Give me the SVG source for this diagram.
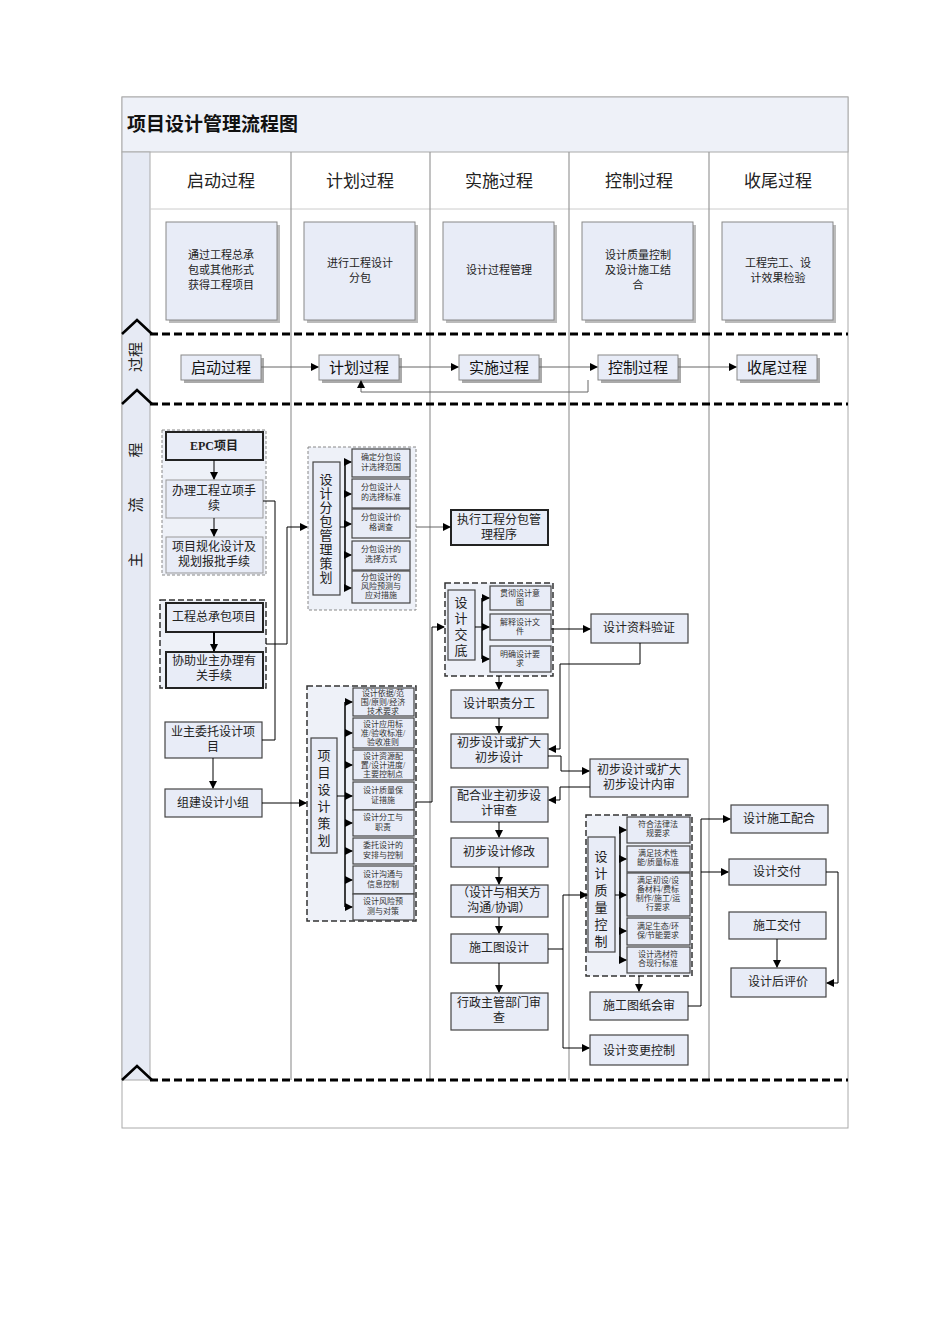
<svg xmlns="http://www.w3.org/2000/svg" width="950" height="1344" viewBox="0 0 950 1344">
<defs>
<marker id="ah" markerWidth="8" markerHeight="8" refX="7" refY="4" orient="auto" markerUnits="userSpaceOnUse"><path d="M0,0 L8,4 L0,8 z" fill="#000"/></marker>
<style>
.b{fill:#e8ecf7;stroke:#444;stroke-width:1.2}
.bt{fill:#e8ecf7;stroke:#222;stroke-width:2}
.bl{fill:#e8ecf7;stroke:#999;stroke-width:1}
.ph{fill:#e8ecf7;stroke:#888;stroke-width:1}
.g{fill:#eef1f8;stroke:#888;stroke-width:1;stroke-dasharray:3,2}
.gd{fill:#eef1f8;stroke:#333;stroke-width:1.5;stroke-dasharray:6,3}
.t{font-family:"Liberation Serif","Noto Sans CJK SC",serif;font-size:12px;fill:#222;text-anchor:middle}
.s{font-family:"Liberation Serif","Noto Sans CJK SC",serif;font-size:8px;fill:#333;text-anchor:middle}
.h{font-family:"Noto Sans CJK SC",sans-serif;font-size:17px;fill:#222;text-anchor:middle}
.p{font-family:"Noto Sans CJK SC",sans-serif;font-size:15px;fill:#111;text-anchor:middle}
.c{fill:none;stroke:#000;stroke-width:1}
.cg{fill:none;stroke:#666;stroke-width:1}
.dl{stroke:#000;stroke-width:3;stroke-dasharray:8,4}
</style>
</defs>
<rect x="0" y="0" width="950" height="1344" fill="#fff"/>
<g id="frame">
<rect x="122" y="97" width="726" height="1031" fill="#fff" stroke="#aaa"/>
<rect x="122" y="97" width="726" height="55" fill="#eef1f8" stroke="#aaa"/>
<text x="127" y="131" style="font-family:'Noto Sans CJK SC',sans-serif;font-size:19px;font-weight:bold;fill:#111">项目设计管理流程图</text>
<rect x="122" y="152" width="28" height="928" fill="#e6eaf4" stroke="#aaa"/>
<line x1="150" y1="209" x2="848" y2="209" stroke="#ccc"/>
<g stroke="#999" stroke-width="1.2"><line x1="291" y1="152" x2="291" y2="1080"/><line x1="430" y1="152" x2="430" y2="1080"/><line x1="569" y1="152" x2="569" y2="1080"/><line x1="709" y1="152" x2="709" y2="1080"/></g>
<line x1="150" y1="334" x2="848" y2="334" class="dl"/>
<line x1="150" y1="404" x2="848" y2="404" class="dl"/>
<line x1="150" y1="1080" x2="848" y2="1080" class="dl"/>
<g fill="none" stroke="#000" stroke-width="2.5"><path d="M122,334 L137,320 L152,334"/><path d="M122,404 L137,390 L152,404"/><path d="M122,1080 L137,1066 L152,1080"/></g>
<text transform="translate(141,357) rotate(-90)" class="h" style="font-size:15px">过程</text>
<text transform="translate(141,485) rotate(-90)" class="h" style="font-size:15px;letter-spacing:40px">主流程</text>
<text x="221" y="187" class="h">启动过程</text><text x="360" y="187" class="h">计划过程</text><text x="499" y="187" class="h">实施过程</text><text x="639" y="187" class="h">控制过程</text><text x="778" y="187" class="h">收尾过程</text>
</g>
<g id="phases">
<rect x="169" y="225" width="111" height="98" fill="#bbb"/><rect x="166" y="222" width="111" height="98" class="ph"/><text class="t" style="font-size:11px" x="221" y="259">通过工程总承<tspan x="221" dy="15">包或其他形式</tspan><tspan x="221" dy="15">获得工程项目</tspan></text>
<rect x="307" y="225" width="111" height="98" fill="#bbb"/><rect x="304" y="222" width="111" height="98" class="ph"/><text class="t" style="font-size:11px" x="360" y="267">进行工程设计<tspan x="360" dy="15">分包</tspan></text>
<rect x="446" y="225" width="111" height="98" fill="#bbb"/><rect x="443" y="222" width="111" height="98" class="ph"/><text class="t" style="font-size:11px" x="499" y="274">设计过程管理</text>
<rect x="585" y="225" width="111" height="98" fill="#bbb"/><rect x="582" y="222" width="111" height="98" class="ph"/><text class="t" style="font-size:11px" x="638" y="259">设计质量控制<tspan x="638" dy="15">及设计施工结</tspan><tspan x="638" dy="15">合</tspan></text>
<rect x="725" y="225" width="111" height="98" fill="#bbb"/><rect x="722" y="222" width="111" height="98" class="ph"/><text class="t" style="font-size:11px" x="778" y="267">工程完工、设<tspan x="778" dy="15">计效果检验</tspan></text>
</g>
<g id="process">
<g><rect x="184" y="358" width="80" height="25" fill="#aaa"/><rect x="181" y="355" width="80" height="25" class="ph"/><text x="221" y="373" class="p">启动过程</text></g>
<g><rect x="322" y="358" width="80" height="25" fill="#aaa"/><rect x="319" y="355" width="80" height="25" class="ph"/><text x="359" y="373" class="p">计划过程</text></g>
<g><rect x="462" y="358" width="80" height="25" fill="#aaa"/><rect x="459" y="355" width="80" height="25" class="ph"/><text x="499" y="373" class="p">实施过程</text></g>
<g><rect x="601" y="358" width="80" height="25" fill="#aaa"/><rect x="598" y="355" width="80" height="25" class="ph"/><text x="638" y="373" class="p">控制过程</text></g>
<g><rect x="740" y="358" width="80" height="25" fill="#aaa"/><rect x="737" y="355" width="80" height="25" class="ph"/><text x="777" y="373" class="p">收尾过程</text></g>
</g>
<g id="groups">
<rect x="162" y="430" width="104" height="145" class="g"/>
<rect x="160" y="600" width="106" height="88" class="gd"/>
<rect x="308" y="447" width="108" height="163" class="g"/>
<rect x="307" y="686" width="109" height="235" class="gd"/>
<rect x="445" y="583" width="108" height="93" class="gd"/>
<rect x="586" y="815" width="106" height="161" class="gd"/>
</g>
<g id="nodes">
<g id="n1"><rect x="166" y="432" width="97" height="28" class="bt"/><text x="214" y="450" class="t" style="font-weight:bold">EPC项目</text></g>
<g id="n2"><rect x="166" y="480" width="97" height="38" class="bl"/><text x="214" y="495" class="t">办理工程立项手<tspan x="214" dy="15">续</tspan></text></g>
<g id="n3"><rect x="166" y="537" width="97" height="36" class="bl"/><text x="214" y="551" class="t">项目规化设计及<tspan x="214" dy="15">规划报批手续</tspan></text></g>
<g id="n4"><rect x="166" y="603" width="97" height="29" class="bt"/><text x="214" y="621" class="t">工程总承包项目</text></g>
<g id="n5"><rect x="166" y="652" width="97" height="36" class="bt"/><text x="214" y="665" class="t">协助业主办理有<tspan x="214" dy="15">关手续</tspan></text></g>
<g id="n6"><rect x="165" y="722" width="97" height="36" class="b"/><text x="213" y="736" class="t">业主委托设计项<tspan x="213" dy="15">目</tspan></text></g>
<g id="n7"><rect x="165" y="789" width="97" height="28" class="b"/><text x="213" y="807" class="t">组建设计小组</text></g>
<g id="p1"><rect x="313" y="462" width="27" height="133" class="b"/><text class="t" style="font-size:13px" x="326" y="484">设<tspan x="326" dy="14">计</tspan><tspan x="326" dy="14">分</tspan><tspan x="326" dy="14">包</tspan><tspan x="326" dy="14">管</tspan><tspan x="326" dy="14">理</tspan><tspan x="326" dy="14">策</tspan><tspan x="326" dy="14">划</tspan></text></g>
<g id="p1a"><rect x="352" y="449" width="58" height="28" class="b"/><text class="s" x="381" y="460">确定分包设<tspan x="381" dy="10">计选择范围</tspan></text></g>
<g id="p1b"><rect x="352" y="479" width="58" height="29" class="b"/><text class="s" x="381" y="490">分包设计人<tspan x="381" dy="10">的选择标准</tspan></text></g>
<g id="p1c"><rect x="352" y="509" width="58" height="29" class="b"/><text class="s" x="381" y="520">分包设计价<tspan x="381" dy="10">格调查</tspan></text></g>
<g id="p1d"><rect x="352" y="541" width="58" height="29" class="b"/><text class="s" x="381" y="552">分包设计的<tspan x="381" dy="10">选择方式</tspan></text></g>
<g id="p1e"><rect x="352" y="571" width="58" height="32" class="b"/><text class="s" x="381" y="580">分包设计的<tspan x="381" dy="9">风险预测与</tspan><tspan x="381" dy="9">应对措施</tspan></text></g>
<g id="p2"><rect x="311" y="738" width="26" height="115" class="b"/><text class="t" style="font-size:13px" x="324" y="760">项<tspan x="324" dy="17">目</tspan><tspan x="324" dy="17">设</tspan><tspan x="324" dy="17">计</tspan><tspan x="324" dy="17">策</tspan><tspan x="324" dy="17">划</tspan></text></g>
<g id="p2a"><rect x="353" y="688" width="61" height="28" class="b"/><text class="s" x="383" y="696">设计依据/范<tspan x="383" dy="9">围/原则/经济</tspan><tspan x="383" dy="9">技术要求</tspan></text></g>
<g id="p2b"><rect x="353" y="718" width="61" height="30" class="b"/><text class="s" x="383" y="727">设计应用标<tspan x="383" dy="9">准/验收标准/</tspan><tspan x="383" dy="9">验收准则</tspan></text></g>
<g id="p2c"><rect x="353" y="750" width="61" height="30" class="b"/><text class="s" x="383" y="759">设计资源配<tspan x="383" dy="9">置/设计进度/</tspan><tspan x="383" dy="9">主要控制点</tspan></text></g>
<g id="p2d"><rect x="353" y="782" width="61" height="28" class="b"/><text class="s" x="383" y="793">设计质量保<tspan x="383" dy="10">证措施</tspan></text></g>
<g id="p2e"><rect x="353" y="810" width="61" height="26" class="b"/><text class="s" x="383" y="820">设计分工与<tspan x="383" dy="10">职责</tspan></text></g>
<g id="p2f"><rect x="353" y="838" width="61" height="26" class="b"/><text class="s" x="383" y="848">委托设计的<tspan x="383" dy="10">安排与控制</tspan></text></g>
<g id="p2g"><rect x="353" y="866" width="61" height="28" class="b"/><text class="s" x="383" y="877">设计沟通与<tspan x="383" dy="10">信息控制</tspan></text></g>
<g id="p2h"><rect x="353" y="894" width="61" height="26" class="b"/><text class="s" x="383" y="904">设计风险预<tspan x="383" dy="10">测与对策</tspan></text></g>
<g id="e0"><rect x="451" y="510" width="97" height="35" class="bt"/><text x="499" y="524" class="t">执行工程分包管<tspan x="499" dy="15">理程序</tspan></text></g>
<g id="e1"><rect x="448" y="590" width="27" height="70" class="b"/><text class="t" style="font-size:13px" x="461" y="607">设<tspan x="461" dy="16">计</tspan><tspan x="461" dy="16">交</tspan><tspan x="461" dy="16">底</tspan></text></g>
<g id="e1a"><rect x="490" y="586" width="61" height="24" class="b"/><text class="s" x="520" y="596">贯彻设计意<tspan x="520" dy="9">图</tspan></text></g>
<g id="e1b"><rect x="490" y="614" width="61" height="26" class="b"/><text class="s" x="520" y="625">解释设计文<tspan x="520" dy="9">件</tspan></text></g>
<g id="e1c"><rect x="490" y="646" width="61" height="26" class="b"/><text class="s" x="520" y="657">明确设计要<tspan x="520" dy="9">求</tspan></text></g>
<g id="e2"><rect x="451" y="690" width="97" height="28" class="b"/><text x="499" y="708" class="t">设计职责分工</text></g>
<g id="e3"><rect x="451" y="734" width="97" height="34" class="b"/><text x="499" y="747" class="t">初步设计或扩大<tspan x="499" dy="15">初步设计</tspan></text></g>
<g id="e4"><rect x="451" y="787" width="97" height="35" class="b"/><text x="499" y="800" class="t">配合业主初步设<tspan x="499" dy="15">计审查</tspan></text></g>
<g id="e5"><rect x="451" y="838" width="97" height="29" class="b"/><text x="499" y="856" class="t">初步设计修改</text></g>
<g id="e6"><rect x="451" y="885" width="97" height="32" class="b"/><text x="499" y="897" class="t">（设计与相关方<tspan x="499" dy="15">沟通/协调）</tspan></text></g>
<g id="e7"><rect x="451" y="934" width="97" height="29" class="b"/><text x="499" y="952" class="t">施工图设计</text></g>
<g id="e8"><rect x="451" y="993" width="97" height="37" class="b"/><text x="499" y="1007" class="t">行政主管部门审<tspan x="499" dy="15">查</tspan></text></g>
<g id="c1"><rect x="591" y="614" width="97" height="29" class="b"/><text x="639" y="632" class="t">设计资料验证</text></g>
<g id="c2"><rect x="590" y="759" width="98" height="38" class="b"/><text x="639" y="774" class="t">初步设计或扩大<tspan x="639" dy="15">初步设计内审</tspan></text></g>
<g id="c3"><rect x="588" y="837" width="27" height="115" class="b"/><text class="t" style="font-size:13px" x="601" y="861">设<tspan x="601" dy="17">计</tspan><tspan x="601" dy="17">质</tspan><tspan x="601" dy="17">量</tspan><tspan x="601" dy="17">控</tspan><tspan x="601" dy="17">制</tspan></text></g>
<g id="c3a"><rect x="627" y="817" width="63" height="26" class="b"/><text class="s" x="658" y="827">符合法律法<tspan x="658" dy="9">规要求</tspan></text></g>
<g id="c3b"><rect x="627" y="846" width="63" height="26" class="b"/><text class="s" x="658" y="856">满足技术性<tspan x="658" dy="9">能/质量标准</tspan></text></g>
<g id="c3c"><rect x="627" y="873" width="63" height="43" class="b"/><text class="s" x="658" y="883">满足初设/设<tspan x="658" dy="9">备材料/费标</tspan><tspan x="658" dy="9">制作/施工/运</tspan><tspan x="658" dy="9">行要求</tspan></text></g>
<g id="c3d"><rect x="627" y="918" width="63" height="27" class="b"/><text class="s" x="658" y="929">满足生态/环<tspan x="658" dy="9">保/节能要求</tspan></text></g>
<g id="c3e"><rect x="627" y="947" width="63" height="26" class="b"/><text class="s" x="658" y="957">设计选材符<tspan x="658" dy="9">合现行标准</tspan></text></g>
<g id="c4"><rect x="590" y="992" width="98" height="28" class="b"/><text x="639" y="1010" class="t">施工图纸会审</text></g>
<g id="c5"><rect x="590" y="1035" width="98" height="30" class="b"/><text x="639" y="1055" class="t">设计变更控制</text></g>
<g id="f1"><rect x="731" y="805" width="97" height="28" class="b"/><text x="779" y="823" class="t">设计施工配合</text></g>
<g id="f2"><rect x="729" y="859" width="97" height="26" class="b"/><text x="777" y="876" class="t">设计交付</text></g>
<g id="f3"><rect x="729" y="912" width="97" height="27" class="b"/><text x="777" y="930" class="t">施工交付</text></g>
<g id="f4"><rect x="731" y="968" width="95" height="29" class="b"/><text x="778" y="986" class="t">设计后评价</text></g>
</g>
<g id="connectors">
<g class="cg"><line x1="261" y1="367" x2="318" y2="367" marker-end="url(#ah)"/><line x1="399" y1="367" x2="458" y2="367" marker-end="url(#ah)"/><line x1="539" y1="367" x2="597" y2="367" marker-end="url(#ah)"/><line x1="678" y1="367" x2="736" y2="367" marker-end="url(#ah)"/><polyline points="588,380 588,392 361,392 361,381" marker-end="url(#ah)"/></g>
<line x1="214" y1="460" x2="214" y2="479" class="c" marker-end="url(#ah)"/>
<line x1="214" y1="518" x2="214" y2="536" class="c" marker-end="url(#ah)"/>
<line x1="214" y1="632" x2="214" y2="651" class="c" style="stroke-width:2" marker-end="url(#ah)"/>
<polyline points="263,501 275,501 275,740 262,740" class="c"/>
<polyline points="266,644 287,644 287,527 307,527" class="c" marker-end="url(#ah)"/>
<line x1="213" y1="758" x2="213" y2="788" class="c" marker-end="url(#ah)"/>
<line x1="262" y1="803" x2="306" y2="803" class="c" marker-end="url(#ah)"/>
<line x1="340" y1="527" x2="345" y2="527" class="c"/>
<line x1="345" y1="462" x2="345" y2="588" class="c" style="stroke-width:1.5"/>
<g class="c"><line x1="345" y1="462" x2="351" y2="462" marker-end="url(#ah)"/><line x1="345" y1="494" x2="351" y2="494" marker-end="url(#ah)"/><line x1="345" y1="524" x2="351" y2="524" marker-end="url(#ah)"/><line x1="345" y1="555" x2="351" y2="555" marker-end="url(#ah)"/><line x1="345" y1="588" x2="351" y2="588" marker-end="url(#ah)"/></g>
<line x1="416" y1="527" x2="450" y2="527" class="cg" marker-end="url(#ah)"/>
<line x1="337" y1="796" x2="345" y2="796" class="c"/>
<line x1="345" y1="702" x2="345" y2="907" class="c" style="stroke-width:1.5"/>
<g class="c"><line x1="345" y1="702" x2="352" y2="702" marker-end="url(#ah)"/><line x1="345" y1="733" x2="352" y2="733" marker-end="url(#ah)"/><line x1="345" y1="765" x2="352" y2="765" marker-end="url(#ah)"/><line x1="345" y1="796" x2="352" y2="796" marker-end="url(#ah)"/><line x1="345" y1="823" x2="352" y2="823" marker-end="url(#ah)"/><line x1="345" y1="851" x2="352" y2="851" marker-end="url(#ah)"/><line x1="345" y1="880" x2="352" y2="880" marker-end="url(#ah)"/><line x1="345" y1="907" x2="352" y2="907" marker-end="url(#ah)"/></g>
<polyline points="416,802 432,802 432,627 444,627" class="c" marker-end="url(#ah)"/>
<line x1="475" y1="627" x2="482" y2="627" class="c"/>
<line x1="482" y1="598" x2="482" y2="659" class="c" style="stroke-width:1.5"/>
<g class="c"><line x1="482" y1="598" x2="489" y2="598" marker-end="url(#ah)"/><line x1="482" y1="627" x2="489" y2="627" marker-end="url(#ah)"/><line x1="482" y1="659" x2="489" y2="659" marker-end="url(#ah)"/></g>
<line x1="551" y1="629" x2="590" y2="629" class="c" marker-end="url(#ah)"/>
<polyline points="640,643 640,664 560,664 560,749 549,749" class="c" marker-end="url(#ah)"/>
<line x1="499" y1="676" x2="499" y2="689" class="c" marker-end="url(#ah)"/>
<line x1="499" y1="718" x2="499" y2="733" class="c" marker-end="url(#ah)"/>
<polyline points="548,756 561,756 561,771 589,771" class="c" marker-end="url(#ah)"/>
<polyline points="590,787 560,787 560,800 549,800" class="c" marker-end="url(#ah)"/>
<line x1="499" y1="822" x2="499" y2="837" class="c" marker-end="url(#ah)"/>
<line x1="499" y1="867" x2="499" y2="884" class="c" marker-end="url(#ah)"/>
<line x1="499" y1="917" x2="499" y2="933" class="c" marker-end="url(#ah)"/>
<line x1="499" y1="963" x2="499" y2="992" class="c" marker-end="url(#ah)"/>
<polyline points="548,949 563,949 563,895 587,895" class="c" marker-end="url(#ah)"/>
<polyline points="563,949 563,1048 589,1048" class="c" marker-end="url(#ah)"/>
<line x1="615" y1="895" x2="620" y2="895" class="c"/>
<line x1="620" y1="830" x2="620" y2="960" class="c" style="stroke-width:1.5"/>
<g class="c"><line x1="620" y1="830" x2="626" y2="830" marker-end="url(#ah)"/><line x1="620" y1="859" x2="626" y2="859" marker-end="url(#ah)"/><line x1="620" y1="895" x2="626" y2="895" marker-end="url(#ah)"/><line x1="620" y1="931" x2="626" y2="931" marker-end="url(#ah)"/><line x1="620" y1="960" x2="626" y2="960" marker-end="url(#ah)"/></g>
<line x1="639" y1="976" x2="639" y2="991" class="c" marker-end="url(#ah)"/>
<polyline points="688,1006 701,1006 701,819 730,819" class="c" marker-end="url(#ah)"/>
<line x1="701" y1="872" x2="728" y2="872" class="c" marker-end="url(#ah)"/>
<polyline points="826,872 838,872 838,983 827,983" class="c" marker-end="url(#ah)"/>
<line x1="777" y1="939" x2="777" y2="967" class="c" marker-end="url(#ah)"/>
</g>
</svg>
